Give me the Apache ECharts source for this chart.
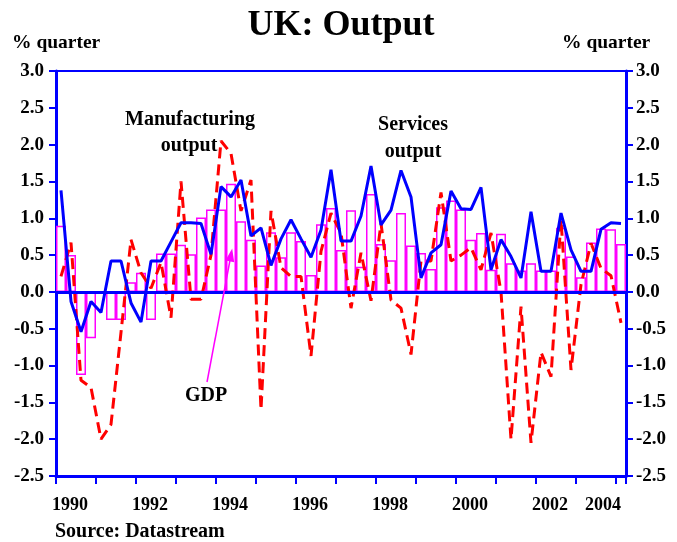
<!DOCTYPE html>
<html>
<head>
<meta charset="utf-8">
<script src="https://cdn.jsdelivr.net/npm/echarts@6/dist/echarts.min.js"></script>
<style>
  html, body { margin: 0; padding: 0; background: #fff; }
  #chart { width: 677px; height: 542px; }
</style>
</head>
<body>
<div id="chart"></div>
<script>
// quarterly, 1990 Q1 .. 2004 Q1
const quarters = [
  '1990Q1','1990Q2','1990Q3','1990Q4','1991Q1','1991Q2','1991Q3','1991Q4',
  '1992Q1','1992Q2','1992Q3','1992Q4','1993Q1','1993Q2','1993Q3','1993Q4',
  '1994Q1','1994Q2','1994Q3','1994Q4','1995Q1','1995Q2','1995Q3','1995Q4',
  '1996Q1','1996Q2','1996Q3','1996Q4','1997Q1','1997Q2','1997Q3','1997Q4',
  '1998Q1','1998Q2','1998Q3','1998Q4','1999Q1','1999Q2','1999Q3','1999Q4',
  '2000Q1','2000Q2','2000Q3','2000Q4','2001Q1','2001Q2','2001Q3','2001Q4',
  '2002Q1','2002Q2','2002Q3','2002Q4','2003Q1','2003Q2','2003Q3','2003Q4',
  '2004Q1'
];
const yearLabels = ['1990', '1992', '1994', '1996', '1998', '2000', '2002', '2004'];

const gdp = [
  0.90, 0.50, -1.13, -0.63, -0.02, -0.38, -0.38, 0.13, 0.26, -0.38,
  0.52, 0.52, 0.64, 0.51, 1.01, 1.12, 1.12, 1.47, 0.96, 0.71,
  0.36, 0.81, 0.47, 0.81, 0.69, 0.23, 0.92, 1.14, 0.57, 1.11,
  0.34, 1.33, 0.65, 0.43, 1.07, 0.63, 0.53, 0.31, 1.15, 1.24,
  1.12, 0.71, 0.80, 0.30, 0.79, 0.39, 0.29, 0.39, 0.29, 0.29,
  0.87, 0.48, 0.20, 0.67, 0.86, 0.85, 0.65
];
const manufacturing = [
  0.21, 0.67, -1.20, -1.30, -2.00, -1.80, -0.55, 0.71, 0.26, 0.05,
  0.40, -0.35, 1.50, -0.10, -0.10, 0.50, 2.05, 1.88, 1.10, 1.52,
  -1.60, 1.10, 0.33, 0.21, 0.21, -0.87, 0.55, 1.07, 0.80, -0.22,
  0.53, -0.12, 0.93, -0.11, -0.22, -0.85, 0.42, 0.42, 1.35, 0.42,
  0.50, 0.60, 0.30, 0.80, 0.00, -2.00, -0.20, -2.05, -0.82, -1.15,
  0.98, -1.06, 0.10, 0.66, 0.32, 0.22, -0.42
];
const services = [
  1.38, -0.13, -0.54, -0.13, -0.28, 0.42, 0.42, -0.15, -0.41, 0.42,
  0.42, 0.68, 0.94, 0.94, 0.93, 0.51, 1.43, 1.29, 1.52, 0.76,
  0.87, 0.36, 0.72, 0.98, 0.72, 0.47, 0.84, 1.66, 0.69, 0.69,
  1.03, 1.71, 0.91, 1.11, 1.65, 1.29, 0.19, 0.53, 0.64, 1.37,
  1.13, 1.12, 1.42, 0.30, 0.71, 0.48, 0.19, 1.09, 0.28, 0.28,
  1.07, 0.57, 0.28, 0.28, 0.85, 0.94, 0.93
];

const FONT = '"Liberation Serif", "Times New Roman", serif';
const BLUE = '#0000ff';
const RED = '#ff0000';
const MAGENTA = '#ff00ff';

const chart = echarts.init(document.getElementById('chart'));

const valueAxis = (pos) => ({
  type: 'value',
  position: pos,
  min: -2.5,
  max: 3,
  interval: 0.5,
  axisLine: { show: true, lineStyle: { color: BLUE, width: 3 } },
  axisTick: { show: true, length: 7, lineStyle: { color: BLUE, width: 2 } },
  axisLabel: {
    color: '#000',
    fontFamily: FONT,
    fontWeight: 'bold',
    fontSize: 19,
    margin: pos === 'left' ? 12 : 10,
    formatter: (v) => v.toFixed(1)
  },
  splitLine: { show: false }
});

const textEl = (txt, x, y, size, align) => ({
  type: 'text',
  x: x,
  y: y,
  style: {
    text: txt,
    fill: '#000',
    font: 'bold ' + size + 'px ' + FONT,
    textAlign: align || 'center',
    textVerticalAlign: 'middle'
  }
});

const option = {
  animation: false,
  backgroundColor: '#fff',
  grid: { left: 56, right: 51, top: 71, bottom: 66 },
  xAxis: [
    {
      type: 'category',
      data: quarters,
      position: 'bottom',
      boundaryGap: true,
      axisLine: { show: true, onZero: false, lineStyle: { color: BLUE, width: 3 } },
      axisTick: { show: true, interval: 3, length: 8, lineStyle: { color: BLUE, width: 2 } },
      axisLabel: {
        interval: (idx) => idx % 8 === 0,
        formatter: (v) => yearLabels[yearLabels.indexOf(v.slice(0, 4))],
        color: '#000',
        fontFamily: FONT,
        fontWeight: 'bold',
        fontSize: 18,
        margin: 20,
        padding: [0, 0, 0, 18],
        alignMaxLabel: 'right'
      },
      splitLine: { show: false }
    },
    {
      type: 'category',
      data: quarters,
      position: 'top',
      axisLine: { show: true, onZero: false, lineStyle: { color: BLUE, width: 2 } },
      axisTick: { show: false },
      axisLabel: { show: false }
    }
  ],
  yAxis: [valueAxis('left'), valueAxis('right')],
  series: [
    {
      name: 'GDP',
      type: 'bar',
      data: gdp,
      barWidth: '100%',
      itemStyle: { color: '#ffffff', borderColor: MAGENTA, borderWidth: 1.5 },
      markLine: {
        silent: true,
        symbol: 'none',
        label: { show: false },
        lineStyle: { color: BLUE, width: 3, type: 'solid' },
        data: [{ yAxis: 0 }]
      },
      z: 1
    },
    {
      name: 'Manufacturing output',
      type: 'line',
      data: manufacturing,
      showSymbol: false,
      lineStyle: { color: RED, width: 3, type: [11, 6] },
      markLine: {
        silent: true,
        symbol: ['none', 'triangle'],
        symbolSize: [9, 13],
        label: { show: false },
        lineStyle: { color: MAGENTA, width: 1.5, type: 'solid' },
        itemStyle: { color: MAGENTA },
        data: [[{ x: 207, y: 382 }, { x: 231, y: 255 }]]
      },
      z: 3
    },
    {
      name: 'Services output',
      type: 'line',
      data: services,
      showSymbol: false,
      lineStyle: { color: BLUE, width: 3 },
      z: 4
    }
  ],
  graphic: [
    textEl('UK: Output', 341, 26, 36),
    textEl('% quarter', 12, 43, 19.5, 'left'),
    textEl('% quarter', 562, 43, 19.5, 'left'),
    textEl('Manufacturing', 190, 120, 20),
    textEl('output', 189, 146, 20),
    textEl('Services', 413, 125, 20),
    textEl('output', 413, 152, 20),
    textEl('GDP', 206, 396, 20),
    textEl('Source: Datastream', 55, 532, 20, 'left')
  ]
};

chart.setOption(option);
</script>
</body>
</html>
